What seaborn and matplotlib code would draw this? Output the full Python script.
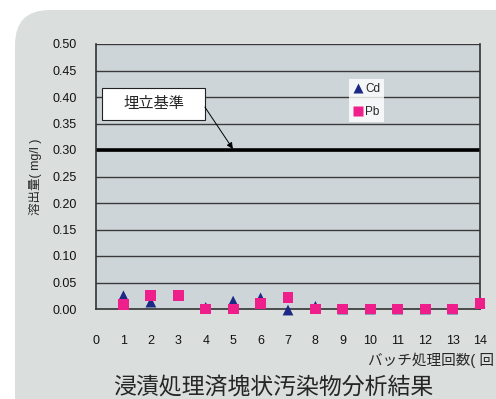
import numpy as np
import pandas as pd
import matplotlib
matplotlib.use('Agg')
import matplotlib.pyplot as plt
from matplotlib.patches import FancyBboxPatch, Rectangle
import seaborn as sns

sns.set_style('white')
plt.rcParams['font.family'] = ['Liberation Sans', 'Noto Sans CJK JP', 'DejaVu Sans']

# data
batches = [1, 2, 3, 4, 5, 6, 7, 8, 9, 10, 11, 12, 13, 14]
cd = [0.025, 0.013, np.nan, 0.003, 0.015, 0.021, -0.002, 0.005, 0.0, 0.0, 0.0, 0.0, 0.0, 0.012]
pb = [0.009, 0.026, 0.026, 0.0, 0.0, 0.010, 0.021, 0.0, 0.0, 0.0, 0.0, 0.0, 0.0, 0.010]
y_ticks = [0.00, 0.05, 0.10, 0.15, 0.20, 0.25, 0.30, 0.35, 0.40, 0.45, 0.50]
x_ticks = list(range(0, 15))
limit = 0.30

df = pd.DataFrame({
    'batch': batches * 2,
    'value': cd + pb,
    'metal': ['Cd'] * len(batches) + ['Pb'] * len(batches),
}).dropna()

fig = plt.figure(figsize=(4.96, 3.99), dpi=100)
fig.patch.set_facecolor('white')

# rounded grey panel behind everything
panel = FancyBboxPatch((15 / 496, -0.2), 1.2, 1 - 10 / 399 + 0.2,
                       boxstyle='round,pad=0,rounding_size=0.07',
                       transform=fig.transFigure, facecolor='#dadfde',
                       edgecolor='none', zorder=-5, mutation_aspect=496 / 399)
fig.patches.append(panel)

ax = fig.add_axes([96 / 496, 1 - 309 / 399, 384 / 496, 265 / 399])
ax.set_zorder(2)
ax.set_facecolor('#cdd5d8')

for yv in y_ticks[1:]:
    ax.axhline(yv, color='#3a3a3a', lw=1.0, zorder=1)
ax.axhline(limit, color='black', lw=2.6, zorder=2)

sns.scatterplot(data=df, x='batch', y='value', hue='metal', style='metal',
                markers={'Cd': '^', 'Pb': 's'},
                palette={'Cd': '#1c2a85', 'Pb': '#ee1f8a'},
                s=60, edgecolor='none', ax=ax, zorder=3, clip_on=False)

ax.set_xlim(0, 14)
ax.set_ylim(0, 0.5)
ax.set_yticks(y_ticks)
ax.set_yticklabels([f'{v:.2f}' for v in y_ticks])
ax.set_xticks(x_ticks)
ax.tick_params(axis='both', length=0, labelsize=9, colors='#111111')
ax.tick_params(axis='x', pad=19)
ax.tick_params(axis='y', pad=14)
for sp in ['left', 'bottom', 'right']:
    ax.spines[sp].set_color('#333333')
    ax.spines[sp].set_linewidth(1.2)
ax.spines['top'].set_visible(False)
ax.set_xlabel('')
ax.set_ylabel('溶出量( mg/l )', fontsize=9, labelpad=7)

leg = ax.legend(loc='upper left', bbox_to_anchor=(253 / 384, 1 - 35 / 265),
                frameon=True, fontsize=8.5, handletextpad=0.1,
                borderpad=0.35, labelspacing=0.95, handlelength=0.9,
                borderaxespad=0, fancybox=False, markerscale=0.9)
leg.get_frame().set_edgecolor('white')
leg.get_frame().set_facecolor('white')
leg.get_frame().set_linewidth(0)

# label box for the landfill limit, with an arrow to the line
ax.add_patch(Rectangle((0.22, 0.357), 3.75, 0.060, facecolor='white',
                       edgecolor='#222222', lw=0.8, zorder=5))
ax.text(2.096, 0.387, '埋立基準', fontsize=11, ha='center', va='center', zorder=6)
ax.annotate('', xy=(4.99, limit + 0.002), xytext=(3.97, 0.381),
            arrowprops=dict(arrowstyle='-|>', color='black', lw=0.7,
                            shrinkA=0, shrinkB=0, mutation_scale=9),
            zorder=6)

fig.text(494 / 496, 1 - 360 / 399, 'バッチ処理回数( 回', fontsize=10.5,
         ha='right', va='center')
fig.text(273 / 496, 1 - 387 / 399, '浸漬処理済塊状汚染物分析結果', fontsize=16.5,
         ha='center', va='center')

fig.savefig('out.png', dpi=100)
